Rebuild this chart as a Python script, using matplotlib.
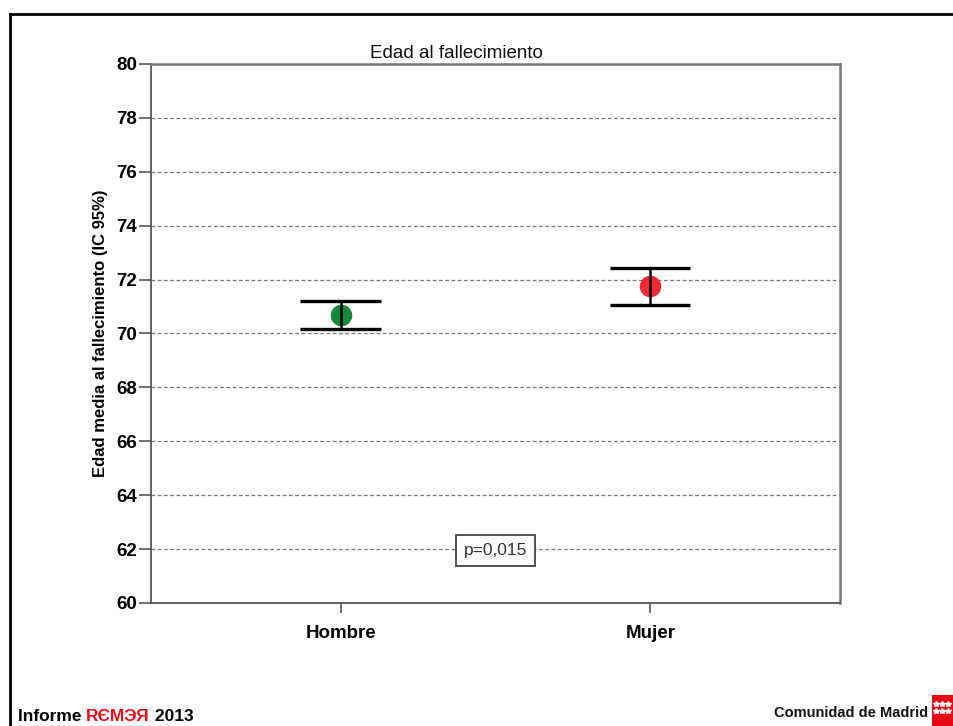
import matplotlib
matplotlib.use("Agg")
import matplotlib.pyplot as plt
from matplotlib.patches import Rectangle

# Mean age at death with 95% confidence intervals
groups = ["Hombre", "Mujer"]
means = [70.67, 71.75]
ci_low = [70.15, 71.07]
ci_high = [71.22, 72.44]
colors = ["#15873a", "#ee2a35"]
y_ticks = [60, 62, 64, 66, 68, 70, 72, 74, 76, 78, 80]
p_label = "p=0,015"

plt.rcParams["font.family"] = ["Liberation Sans", "DejaVu Sans"]

fig = plt.figure(figsize=(9.54, 7.26), dpi=100)
ax = fig.add_axes([151 / 954, 123 / 726, 689 / 954, 539 / 726])

xs = list(range(len(groups)))
for x, m, lo, hi, c in zip(xs, means, ci_low, ci_high, colors):
    ax.plot(x, m, "o", color=c, markersize=14.5, zorder=3)
    ax.vlines(x, lo, hi, color="black", linewidth=1.8, zorder=4)
    ax.hlines([lo, hi], x - 0.13, x + 0.13, color="black", linewidth=2.4, zorder=4)

ax.set_xlim(-0.613, 1.613)
ax.set_ylim(60, 80)
ax.set_yticks(y_ticks)
ax.set_xticks(xs)
ax.set_xticklabels(groups, fontsize=13.5, fontweight="bold")
for lbl in ax.get_yticklabels():
    lbl.set_fontsize(13.5)
    lbl.set_fontweight("bold")
ax.tick_params(axis="y", direction="out", length=9, width=1.2, color="#555555", pad=1)
ax.tick_params(axis="x", direction="out", length=7.5, width=1.2, color="#555555", pad=8)
ax.yaxis.grid(True, linestyle=(0, (3, 2)), color="#777777", linewidth=0.9)
ax.set_axisbelow(True)
for side in ["left", "bottom"]:
    ax.spines[side].set_color("#555555")
    ax.spines[side].set_linewidth(1.3)
for side in ["top", "right"]:
    ax.spines[side].set_color("#777777")
    ax.spines[side].set_linewidth(1.8)

ax.set_ylabel("Edad media al fallecimiento (IC 95%)", fontsize=12, fontweight="bold", labelpad=6)

ax.text(0.5, 61.95, p_label, ha="center", va="center", fontsize=12.5, color="#333333",
        bbox=dict(boxstyle="square,pad=0.45", facecolor="white", edgecolor="#444444", linewidth=1.3),
        zorder=5)

fig.text(456 / 954, 1 - 53 / 726, "Edad al fallecimiento", ha="center", va="center",
         fontsize=13.5, color="#111111")

# Page frame lines
fig.add_artist(plt.Line2D([10 / 954, 10 / 954], [0, 1 - 14 / 726], color="black",
                          linewidth=2, transform=fig.transFigure))
fig.add_artist(plt.Line2D([10 / 954, 1], [1 - 14 / 726, 1 - 14 / 726], color="black",
                          linewidth=2, transform=fig.transFigure))

# Footer
t1 = fig.text(18 / 954, 2 / 726, "Informe ", ha="left", va="bottom", fontsize=12.5,
              fontweight="bold", color="black")
fig.canvas.draw()
bb = t1.get_window_extent()
t2 = fig.text(bb.x1 / 954, 2 / 726, "RЄMЭЯ", ha="left", va="bottom", fontsize=12.5,
              fontweight="bold", color="#e8101c")
bb2 = t2.get_window_extent()
fig.text(bb2.x1 / 954, 2 / 726, " 2013", ha="left", va="bottom", fontsize=12.5,
         fontweight="bold", color="black")

fig.text(928 / 954, 6 / 726, "Comunidad de Madrid", ha="right", va="bottom", fontsize=10.5,
         fontweight="bold", color="#111111")
fig.add_artist(Rectangle((932 / 954, 0), 22 / 954, 31 / 726, facecolor="#e30613",
                         edgecolor="none", transform=fig.transFigure))
star_x = [(936 + col * 6) / 954 for row in range(2) for col in range(3)]
star_y = [(22 - row * 7) / 726 for row in range(2) for col in range(3)]
fig.add_artist(plt.Line2D(star_x, star_y, linestyle="none", marker="*", markersize=4,
                          color="white", transform=fig.transFigure))

fig.savefig("out.png", dpi=100)
